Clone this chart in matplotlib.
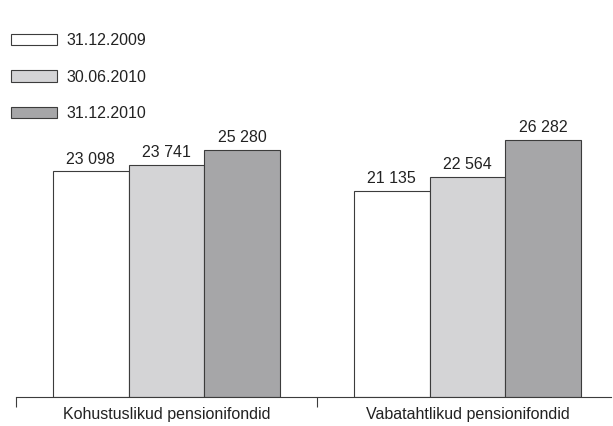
import matplotlib.pyplot as plt
import numpy as np

groups = ["Kohustuslikud pensionifondid", "Vabatahtlikud pensionifondid"]
series = ["31.12.2009", "30.06.2010", "31.12.2010"]
values = [
    [23098, 21135],
    [23741, 22564],
    [25280, 26282],
]
colors = ["#ffffff", "#d4d4d6", "#a6a6a8"]


def fmt(v):
    return "{:,}".format(v).replace(",", " ")


def main():
    plt.rcParams["font.family"] = ["Liberation Sans", "DejaVu Sans"]
    fs = 11.5
    fig = plt.figure(figsize=(6.13, 4.26), dpi=100)
    ax = fig.add_axes([16 / 613, 1 - 397 / 426, 595 / 613, 397 / 426])

    x = np.arange(len(groups))
    w = 0.252
    for i, name in enumerate(series):
        pos = x + (i - 1) * w
        bars = ax.bar(pos, values[i], width=w, color=colors[i],
                      edgecolor="#3c3c3c", linewidth=0.8, label=name)
        for b, v in zip(bars, values[i]):
            ax.annotate(fmt(v), (b.get_x() + b.get_width() / 2, v),
                        xytext=(0, 3.5), textcoords="offset points",
                        ha="center", va="bottom", fontsize=fs, color="#222222")

    ax.set_xlim(-0.5, 1.5 - 7 / 301)
    ax.set_ylim(0, 40640)
    for s in ["top", "right", "left"]:
        ax.spines[s].set_visible(False)
    ax.spines["bottom"].set_color("#3c3c3c")
    ax.spines["bottom"].set_linewidth(0.8)
    ax.set_yticks([])
    ax.set_xticks([-0.5, 0.5])
    ax.set_xticklabels([])
    ax.tick_params(axis="x", which="major", length=7.5, width=0.8,
                   color="#3c3c3c", direction="out")
    ax.set_xticks(x, minor=True)
    ax.set_xticklabels(groups, minor=True, fontsize=fs, color="#222222")
    ax.tick_params(axis="x", which="minor", length=0, pad=7.5)

    leg = ax.legend(loc="upper left", bbox_to_anchor=(11 / 613, 1 - 33 / 426),
                    bbox_transform=fig.transFigure, frameon=False, fontsize=fs,
                    handlelength=2.9, handleheight=0.7, handletextpad=0.6,
                    labelspacing=1.35, borderpad=0, borderaxespad=0)
    for t in leg.get_texts():
        t.set_color("#222222")

    fig.savefig("out.png", dpi=100)
    plt.close(fig)


if __name__ == "__main__":
    main()
